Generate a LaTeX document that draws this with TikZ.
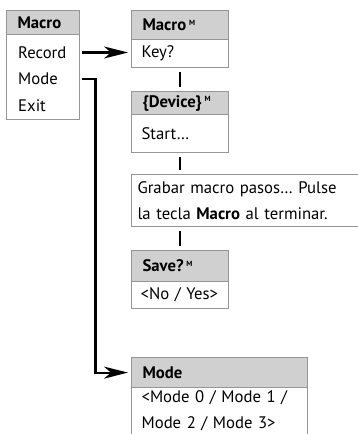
\documentclass[tikz,border=0pt]{standalone}
\usepackage{fontspec}
\setmainfont{PT Sans}
\usetikzlibrary{arrows.meta, positioning, calc}

\definecolor{boxgray}{RGB}{150,150,150}
\definecolor{hdrgray}{RGB}{208,208,208}
\newcommand{\supm}{\,\raisebox{0.65ex}{\fontsize{7.5}{7.5}\selectfont M}}

\begin{document}
\begin{tikzpicture}[
  x=1pt, y=-1pt,
  font=\fontsize{16.7}{26.5}\selectfont,
  hdr/.style={
    draw=boxgray, line width=1.2pt, fill=hdrgray, anchor=north west,
    inner xsep=11pt, align=left, font=\fontsize{16.7}{26.5}\selectfont\bfseries
  },
  body/.style={
    draw=boxgray, line width=1.2pt, fill=white, anchor=north west,
    inner xsep=10pt, align=left
  },
  item/.style={anchor=west, inner xsep=12pt, text width=49pt, align=left,
    minimum height=26pt},
  link/.style={-{Stealth[length=24pt, width=12pt, inset=7pt]}, line width=2.2pt,
    shorten <=3pt, shorten >=3pt},
  conn/.style={line width=2pt, shorten <=4pt, shorten >=4pt}
]
\useasboundingbox (0,0) rectangle (357,434);

% Left menu
\node[hdr, text width=51pt, minimum height=24pt] (menuhd) at (6,10) {Macro};
\node[body, minimum width=73pt, minimum height=85pt] (menubd) at (6,34) {};
\node[item] (rec) at (6,52.5) {Record};
\node[item] (mod) at (6,79) {Mode};
\node[item] (ext) at (6,105.5) {Exit};

% Right column
\node[hdr, text width=75pt, minimum height=29pt] (keyhd) at (131,10) {Macro\supm};
\node[body, text width=77pt, minimum height=28pt] (keybd) at (131,39) {Key?};

\node[hdr, text width=75pt, minimum height=23pt] (devhd) at (131,91) {\{Device\}\supm};
\node[body, text width=77pt, minimum height=38pt] (devbd) at (131,114) {Start\dots};

\node[body, inner xsep=6pt, text width=250pt, minimum height=52pt] (txt) at (131,174)
  {Grabar macro pasos\dots{} Pulse\\[-1pt]la tecla \textbf{Macro} al terminar.};

\node[hdr, text width=75pt, minimum height=31pt] (savehd) at (131,250) {Save?\supm};
\node[body, inner xsep=9pt, text width=79pt, minimum height=27pt] (savebd) at (131,281)
  {\mbox{<No / Yes>}};

\node[hdr, text width=154pt, minimum height=30pt] (modehd) at (131,357) {Mode};
\node[body, text width=156pt, inner ysep=3pt] (modebd) at (131,387)
  {<Mode 0 / Mode 1 /\\Mode 2 / Mode 3>};

% Connectors
\draw[link] (rec.east) -- (rec.east -| keybd.west);
\draw[link] (mod.east) -- ++(16,0) |- (modehd.west);
\draw[conn] (keybd.south) -- (devhd.north);
\draw[conn] (devbd.south) -- (devbd.south |- txt.north);
\draw[conn] (savehd.north |- txt.south) -- (savehd.north);

\end{tikzpicture}
\end{document}
